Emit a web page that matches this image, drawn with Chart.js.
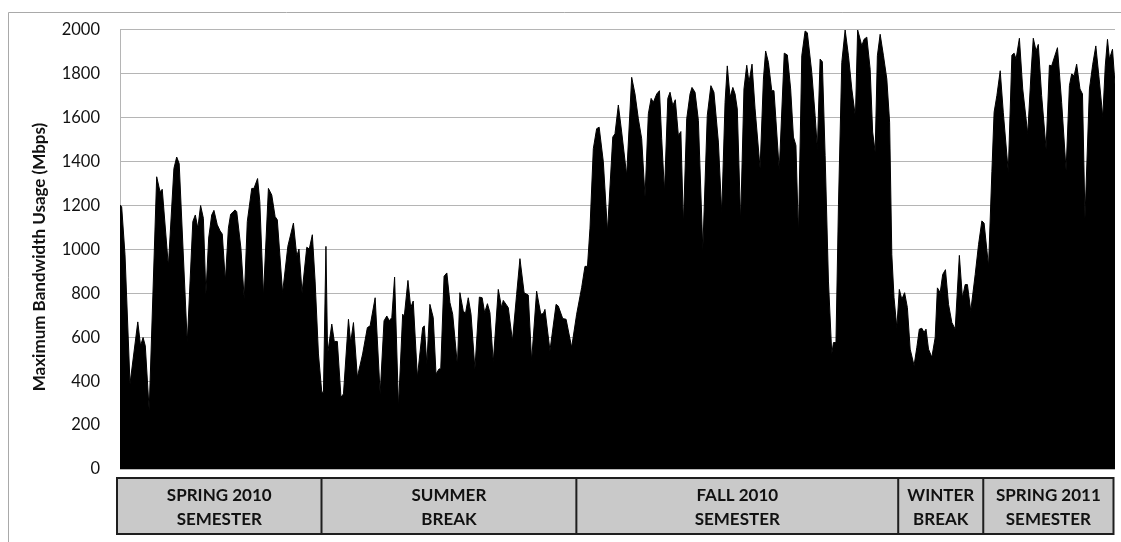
<!DOCTYPE html>
<html>
<head>
<meta charset="utf-8">
<script src="https://cdn.jsdelivr.net/npm/chart.js@4.4.1/dist/chart.umd.min.js"></script>
<style>
  html, body { margin: 0; padding: 0; background: #ffffff; }
  #wrap { width: 1121px; height: 542px; position: relative; }
</style>
</head>
<body>
<div id="wrap"><canvas id="bw" width="1121" height="542"></canvas></div>
<script>
// Day offset from the start of the record, and the peak bandwidth (Mbps) seen that day
const dayIndex = [
  0, 0.6, 1.8, 3.6, 6.4, 7.4, 8.3, 9.1, 10.5, 13.2, 14.4, 15.2, 17.4, 19.4, 20.4, 21.3,
  24.2, 26.2, 27.1, 28.0, 29.0, 30.0, 30.9, 31.9, 33.0, 33.8, 35.0, 36.0, 36.8, 37.9,
  39.0, 39.8, 41.4, 42.0, 43.5, 44.7, 45.8, 47.4, 48.2, 49.5, 50.3, 51.6, 53.4, 54.6,
  55.8, 56.6, 58.5, 60.4, 62.4, 63.6, 64.4, 65.5, 67.2, 68.1, 69.2, 70.2, 71.4, 72.6,
  73.2, 74.1, 74.7, 76.2, 77.1, 78.2, 79.5, 80.4, 82.2, 83.0, 84.0, 85.4, 87.3, 89.0,
  90.0, 91.8, 93.6, 95.0, 96.0, 96.9, 97.8, 98.8, 100.2, 101.7, 102.3, 103.6, 104.6,
  105.5, 107.0, 108.9, 109.5, 110.4, 111.5, 112.7, 113.7, 114.8, 115.4, 116.6, 117.6,
  118.7, 119.7, 121.4, 122.3, 123.5, 124.3, 125.3, 126.3, 127.7, 129.3, 130.3, 131.2,
  132.2, 133.1, 134.3, 136.1, 137.3, 137.9, 139.7, 141.2, 142.7, 143.9, 145.4, 146.9,
  148.1, 149.9, 151.4, 152.3, 152.9, 154.7, 156.9, 157.7, 159.3, 160.5, 162.5, 164.3,
  166.1, 167.3, 168.2, 169.1, 170.3, 171.5, 172.4, 173.9, 175.4, 177.3, 178.1, 179.3,
  180.5, 182.3, 184.1, 185.3, 186.5, 187.7, 188.9, 190.1, 191.1, 191.9, 193.1, 194.1,
  194.9, 195.9, 197.1, 197.9, 198.9, 199.8, 200.9, 201.8, 202.7, 203.9, 205.1, 205.8,
  206.9, 208.1, 209.7, 211.3, 212.6, 213.7, 215.3, 216.5, 217.7, 218.5, 219.5, 220.5,
  221.3, 222.1, 223.3, 224.5, 225.5, 226.3, 227.4, 228.5, 230.3, 231.5, 232.3, 233.3,
  234.5, 235.3, 237.2, 239.0, 240.1, 241.3, 242.3, 243.2, 244.1, 245.3, 246.5, 247.3,
  248.9, 250.1, 250.9, 251.9, 252.7, 253.7, 254.9, 256.1, 256.7, 257.6, 258.5, 259.7,
  260.9, 262.1, 263.3, 264.6, 265.4, 266.0, 266.9, 267.7, 268.7, 269.9, 270.8, 271.7,
  272.5, 273.5, 274.7, 275.9, 276.9, 277.7, 278.5, 279.5, 280.4, 281.3, 282.3, 283.3,
  284.3, 285.7, 286.7, 287.6, 288.5, 289.3, 290.0, 290.9, 292.1, 293.3, 294.1, 295.1,
  296.0, 297.0, 298.1, 299.3, 300.5, 302.0, 303.1, 304.1, 304.9, 306.1, 307.7, 308.9,
  310.1, 310.9, 312.5, 313.7, 314.5, 315.5, 316.7, 317.8, 319.6, 320.9, 321.7, 322.4,
  323.6, 324.8, 326.6, 327.8, 328.6, 329.6, 330.4, 331.6, 333.2, 334.4, 335.2, 337.3,
  338.8, 340.4, 341.6, 342.4, 343.3, 344.2, 345.4, 346.3, 347.2, 348.8, 350.0, 351.1,
  352.3, 353.6, 354.5, 355.3, 356.0, 357.1, 358.0
];

const maxMbps = [
  1203, 1195, 976, 388, 670, 561, 599, 561, 267, 1331, 1263, 1274, 924, 1369, 1421, 1391,
  576, 1127, 1157, 1097, 1200, 1142, 795, 1052, 1157, 1178, 1112, 1085, 1070, 856,
  1097, 1160, 1180, 1172, 1006, 773, 1127, 1278, 1278, 1323, 1218, 788, 1278, 1248,
  1150, 1135, 803, 1015, 1120, 969, 1002, 803, 1010, 1002, 1067, 856, 524, 350,
  350, 1014, 524, 660, 581, 581, 327, 342, 682, 576, 667, 418, 524, 644,
  652, 780, 342, 675, 697, 675, 690, 874, 282, 705, 697, 859, 735,
  765, 418, 644, 652, 478, 750, 690, 433, 456, 456, 878, 893,
  758, 705, 471, 803, 720, 708, 780, 705, 456, 783, 780, 712,
  753, 712, 486, 818, 735, 768, 735, 584, 795, 958, 803, 792,
  493, 810, 705, 708, 727, 539, 750, 742, 685, 682, 554, 705,
  826, 923, 923, 1097, 1459, 1550, 1557, 1399, 1082, 1512, 1527, 1658,
  1535, 1338, 1784, 1708, 1595, 1504, 1240, 1618, 1688, 1670, 1708, 1723,
  1504, 1263, 1688, 1716, 1655, 1682, 1519, 1537, 1112, 1595, 1708, 1738,
  1716, 1588, 999, 1610, 1746, 1716, 1489, 1165, 1670, 1836, 1693, 1738,
  1708, 1640, 1127, 1731, 1839, 1761, 1844, 1640, 1369, 1776, 1904, 1852,
  1723, 1723, 1361, 1894, 1886, 1731, 1512, 1474, 1067, 1882, 1995, 1987,
  1806, 1610, 1459, 1867, 1855, 1429, 856, 524, 576, 576, 1203, 1852,
  2000, 1882, 1731, 1603, 2000, 1972, 1927, 1957, 1967, 1821, 1535, 1444,
  1882, 1980, 1882, 1776, 1580, 976, 780, 644, 818, 773, 803, 735,
  546, 471, 554, 637, 641, 622, 637, 546, 509, 599, 825, 803,
  886, 908, 750, 667, 637, 973, 780, 840, 840, 720, 886, 1022,
  1130, 1120, 923, 1354, 1625, 1701, 1814, 1625, 1354, 1885, 1894, 1867,
  1962, 1731, 1527, 1806, 1962, 1904, 1934, 1701, 1459, 1839, 1836, 1919,
  1670, 1361, 1746, 1799, 1791, 1844, 1731, 1708, 1142, 1731, 1844, 1927,
  1776, 1603, 1836, 1957, 1867, 1912, 1753
];

// Value-axis tick labels
const yTicks = [0, 200, 400, 600, 800, 1000, 1200, 1400, 1600, 1800, 2000];
const yTitle = 'Maximum Bandwidth Usage (Mbps)';

// Academic periods along the time axis
const periodLabels = [
  ['SPRING 2010', 'SEMESTER'],
  ['SUMMER', 'BREAK'],
  ['FALL 2010', 'SEMESTER'],
  ['WINTER', 'BREAK'],
  ['SPRING 2011', 'SEMESTER']
];
const periodBounds = [0, 72.5, 164.2, 280, 310.6, 358];

const points = dayIndex.map((d, i) => ({ x: d, y: maxMbps[i] }));

// Draws the outer frame, the value-axis title and the row of period boxes
const periodBoxes = {
  id: 'periodBoxes',
  afterDraw(chart) {
    const { ctx, scales: { x } } = chart;
    ctx.save();

    ctx.strokeStyle = '#a9a9a9';
    ctx.lineWidth = 1;
    ctx.beginPath();
    ctx.moveTo(8.5, 542);
    ctx.lineTo(8.5, 12.5);
    ctx.lineTo(1121, 12.5);
    ctx.stroke();

    ctx.save();
    ctx.translate(40, 257);
    ctx.rotate(-Math.PI / 2);
    ctx.fillStyle = '#111111';
    ctx.font = '700 17px Lato';
    ctx.textAlign = 'center';
    ctx.textBaseline = 'middle';
    ctx.fillText(yTitle, 0, 0);
    ctx.restore();

    const top = 478, bottom = 534;
    const edges = periodBounds.map(v => x.getPixelForValue(v));
    edges[0] -= 3;
    edges[edges.length - 1] -= 1.5;

    ctx.fillStyle = '#c9c9c9';
    ctx.fillRect(edges[0], top, edges[edges.length - 1] - edges[0], bottom - top);

    ctx.strokeStyle = '#1e1e1e';
    ctx.lineWidth = 2;
    ctx.strokeRect(edges[0], top, edges[edges.length - 1] - edges[0], bottom - top);
    ctx.beginPath();
    for (let i = 1; i < edges.length - 1; i++) {
      ctx.moveTo(edges[i], top);
      ctx.lineTo(edges[i], bottom);
    }
    ctx.stroke();

    ctx.fillStyle = '#111111';
    ctx.font = '700 17px Lato';
    ctx.textAlign = 'center';
    ctx.textBaseline = 'middle';
    periodLabels.forEach((lines, i) => {
      const cx = (edges[i] + edges[i + 1]) / 2;
      ctx.fillText(lines[0], cx, 496);
      ctx.fillText(lines[1], cx, 520);
    });
    ctx.restore();
  }
};

new Chart(document.getElementById('bw'), {
  type: 'line',
  data: {
    datasets: [{
      label: yTitle,
      data: points,
      fill: 'origin',
      backgroundColor: '#000000',
      borderColor: '#000000',
      borderWidth: 1,
      pointRadius: 0,
      tension: 0
    }]
  },
  options: {
    responsive: false,
    animation: false,
    layout: { padding: { top: 27, right: 6, bottom: 73, left: 0 } },
    plugins: { legend: { display: false }, tooltip: { enabled: false } },
    scales: {
      x: {
        type: 'linear',
        min: 0,
        max: 358,
        display: false
      },
      y: {
        min: 0,
        max: 2000,
        afterBuildTicks(scale) { scale.ticks = yTicks.map(v => ({ value: v })); },
        afterFit(scale) { scale.width = 120; },
        grid: { color: '#b5b5b5', lineWidth: 1, drawTicks: false },
        border: { display: true, color: '#b5b5b5' },
        ticks: {
          color: '#111111',
          padding: 20,
          font: { family: 'Lato', size: 16.5 },
          callback: v => String(v)
        }
      }
    }
  },
  plugins: [periodBoxes]
});
</script>
</body>
</html>
